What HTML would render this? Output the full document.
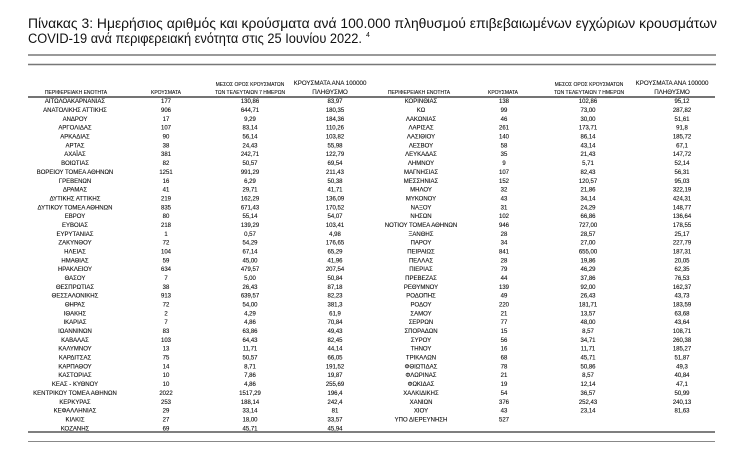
<!DOCTYPE html>
<html><head><meta charset="utf-8"><style>
html,body{margin:0;padding:0;background:#fff;}
svg{display:block;}
.t{font-family:"Liberation Sans","DejaVu Sans",sans-serif;}
.d{font-family:"Liberation Sans","DejaVu Sans",sans-serif;font-size:6px;fill:#111;stroke:#111;stroke-width:0.12;text-anchor:middle;}
.h{font-family:"Liberation Sans","DejaVu Sans",sans-serif;font-size:5px;fill:#111;stroke:#111;stroke-width:0.1;text-anchor:middle;}
.h2{font-family:"Liberation Sans","DejaVu Sans",sans-serif;font-size:6.2px;fill:#111;stroke:#111;stroke-width:0.1;text-anchor:middle;}
</style></head><body>
<svg width="736" height="450" viewBox="0 0 736 450" xmlns="http://www.w3.org/2000/svg">
<text class="t" x="28" y="28" font-size="13.5" fill="#111" textLength="689" lengthAdjust="spacingAndGlyphs">Πίνακας 3:  Ημερήσιος αριθμός και κρούσματα ανά 100.000 πληθυσμού επιβεβαιωμένων εγχώριων κρουσμάτων</text>
<text class="t" x="28" y="43" font-size="13.5" fill="#111" textLength="334" lengthAdjust="spacingAndGlyphs">COVID-19 ανά περιφερειακή ενότητα στις 25 Ιουνίου 2022.</text>
<text class="t" x="366" y="37" font-size="7" fill="#111">4</text>
<line x1="28" y1="55" x2="716" y2="55" stroke="#333" stroke-width="1"/>
<line x1="28" y1="64.5" x2="716" y2="64.5" stroke="#777" stroke-width="1.6"/>

<g>
<text class="h" x="76" y="94">ΠΕΡΙΦΕΡΕΙΑΚΗ ΕΝΟΤΗΤΑ</text>
<text class="h" x="166" y="94">ΚΡΟΥΣΜΑΤΑ</text>
<text class="h" x="250" y="86">ΜΕΣΟΣ ΟΡΟΣ ΚΡΟΥΣΜΑΤΩΝ</text>
<text class="h" x="250" y="94">ΤΩΝ ΤΕΛΕΥΤΑΙΩΝ 7 ΗΜΕΡΩΝ</text>
<text class="h2" x="330" y="85">ΚΡΟΥΣΜΑΤΑ ΑΝΑ 100000</text>
<text class="h2" x="330" y="94">ΠΛΗΘΥΣΜΟ</text>
<text class="h" x="419" y="94">ΠΕΡΙΦΕΡΕΙΑΚΗ ΕΝΟΤΗΤΑ</text>
<text class="h" x="503" y="94">ΚΡΟΥΣΜΑΤΑ</text>
<text class="h" x="589" y="86">ΜΕΣΟΣ ΟΡΟΣ ΚΡΟΥΣΜΑΤΩΝ</text>
<text class="h" x="589" y="94">ΤΩΝ ΤΕΛΕΥΤΑΙΩΝ 7 ΗΜΕΡΩΝ</text>
<text class="h2" x="672" y="85">ΚΡΟΥΣΜΑΤΑ ΑΝΑ 100000</text>
<text class="h2" x="672" y="94">ΠΛΗΘΥΣΜΟ</text>
</g>
<line x1="28" y1="97" x2="715" y2="97" stroke="#222" stroke-width="1.2"/>

<g id="rows"></g>
<line x1="28" y1="432" x2="715" y2="432" stroke="#333" stroke-width="1.3"/>
<line x1="28" y1="441.5" x2="715" y2="441.5" stroke="#888" stroke-width="1"/>
</svg>
<script>
var L=[["ΑΙΤΩΛΟΑΚΑΡΝΑΝΙΑΣ","177","130,86","83,97"],["ΑΝΑΤΟΛΙΚΗΣ ΑΤΤΙΚΗΣ","906","644,71","180,35"],["ΑΝΔΡΟΥ","17","9,29","184,36"],["ΑΡΓΟΛΙΔΑΣ","107","83,14","110,26"],["ΑΡΚΑΔΙΑΣ","90","56,14","103,82"],["ΑΡΤΑΣ","38","24,43","55,98"],["ΑΧΑΪΑΣ","381","242,71","122,79"],["ΒΟΙΩΤΙΑΣ","82","50,57","69,54"],["ΒΟΡΕΙΟΥ ΤΟΜΕΑ ΑΘΗΝΩΝ","1251","991,29","211,43"],["ΓΡΕΒΕΝΩΝ","16","6,29","50,38"],["ΔΡΑΜΑΣ","41","29,71","41,71"],["ΔΥΤΙΚΗΣ ΑΤΤΙΚΗΣ","219","162,29","136,09"],["ΔΥΤΙΚΟΥ ΤΟΜΕΑ ΑΘΗΝΩΝ","835","671,43","170,52"],["ΕΒΡΟΥ","80","55,14","54,07"],["ΕΥΒΟΙΑΣ","218","139,29","103,41"],["ΕΥΡΥΤΑΝΙΑΣ","1","0,57","4,98"],["ΖΑΚΥΝΘΟΥ","72","54,29","176,65"],["ΗΛΕΙΑΣ","104","67,14","65,29"],["ΗΜΑΘΙΑΣ","59","45,00","41,96"],["ΗΡΑΚΛΕΙΟΥ","634","479,57","207,54"],["ΘΑΣΟΥ","7","5,00","50,84"],["ΘΕΣΠΡΩΤΙΑΣ","38","26,43","87,18"],["ΘΕΣΣΑΛΟΝΙΚΗΣ","913","639,57","82,23"],["ΘΗΡΑΣ","72","54,00","381,3"],["ΙΘΑΚΗΣ","2","4,29","61,9"],["ΙΚΑΡΙΑΣ","7","4,86","70,84"],["ΙΩΑΝΝΙΝΩΝ","83","63,86","49,43"],["ΚΑΒΑΛΑΣ","103","64,43","82,45"],["ΚΑΛΥΜΝΟΥ","13","11,71","44,14"],["ΚΑΡΔΙΤΣΑΣ","75","50,57","66,05"],["ΚΑΡΠΑΘΟΥ","14","8,71","191,52"],["ΚΑΣΤΟΡΙΑΣ","10","7,86","19,87"],["ΚΕΑΣ - ΚΥΘΝΟΥ","10","4,86","255,69"],["ΚΕΝΤΡΙΚΟΥ ΤΟΜΕΑ ΑΘΗΝΩΝ","2022","1517,29","196,4"],["ΚΕΡΚΥΡΑΣ","253","188,14","242,4"],["ΚΕΦΑΛΛΗΝΙΑΣ","29","33,14","81"],["ΚΙΛΚΙΣ","27","18,00","33,57"],["ΚΟΖΑΝΗΣ","69","45,71","45,94"]];
var R=[["ΚΟΡΙΝΘΙΑΣ","138","102,86","95,12"],["ΚΩ","99","73,00","287,82"],["ΛΑΚΩΝΙΑΣ","46","30,00","51,61"],["ΛΑΡΙΣΑΣ","261","173,71","91,8"],["ΛΑΣΙΘΙΟΥ","140","86,14","185,72"],["ΛΕΣΒΟΥ","58","43,14","67,1"],["ΛΕΥΚΑΔΑΣ","35","21,43","147,72"],["ΛΗΜΝΟΥ","9","5,71","52,14"],["ΜΑΓΝΗΣΙΑΣ","107","82,43","56,31"],["ΜΕΣΣΗΝΙΑΣ","152","120,57","95,03"],["ΜΗΛΟΥ","32","21,86","322,19"],["ΜΥΚΟΝΟΥ","43","34,14","424,31"],["ΝΑΞΟΥ","31","24,29","148,77"],["ΝΗΣΩΝ","102","66,86","136,64"],["ΝΟΤΙΟΥ ΤΟΜΕΑ ΑΘΗΝΩΝ","946","727,00","178,55"],["ΞΑΝΘΗΣ","28","28,57","25,17"],["ΠΑΡΟΥ","34","27,00","227,79"],["ΠΕΙΡΑΙΩΣ","841","655,00","187,31"],["ΠΕΛΛΑΣ","28","19,86","20,05"],["ΠΙΕΡΙΑΣ","79","46,29","62,35"],["ΠΡΕΒΕΖΑΣ","44","37,86","76,53"],["ΡΕΘΥΜΝΟΥ","139","92,00","162,37"],["ΡΟΔΟΠΗΣ","49","26,43","43,73"],["ΡΟΔΟΥ","220","181,71","183,59"],["ΣΑΜΟΥ","21","13,57","63,68"],["ΣΕΡΡΩΝ","77","48,00","43,64"],["ΣΠΟΡΑΔΩΝ","15","8,57","108,71"],["ΣΥΡΟΥ","56","34,71","260,38"],["ΤΗΝΟΥ","16","11,71","185,27"],["ΤΡΙΚΑΛΩΝ","68","45,71","51,87"],["ΦΘΙΩΤΙΔΑΣ","78","50,86","49,3"],["ΦΛΩΡΙΝΑΣ","21","8,57","40,84"],["ΦΩΚΙΔΑΣ","19","12,14","47,1"],["ΧΑΛΚΙΔΙΚΗΣ","54","36,57","50,99"],["ΧΑΝΙΩΝ","376","252,43","240,13"],["ΧΙΟΥ","43","23,14","81,63"],["ΥΠΟ ΔΙΕΡΕΥΝΗΣΗ","527","",""]];
var g=document.getElementById("rows"),ns="http://www.w3.org/2000/svg";
function put(rows,xs){rows.forEach(function(r,i){var y=101+i*8.84+2.2;r.forEach(function(v,j){if(!v)return;var t=document.createElementNS(ns,"text");t.setAttribute("class","d");t.setAttribute("x",xs[j]);t.setAttribute("y",y.toFixed(2));if(j==0)t.setAttribute("font-size","5.6");t.textContent=v;g.appendChild(t);});});}
put(L,[75,166,250,335]);put(R,[421,504,588,682]);
</script>
</body></html>
